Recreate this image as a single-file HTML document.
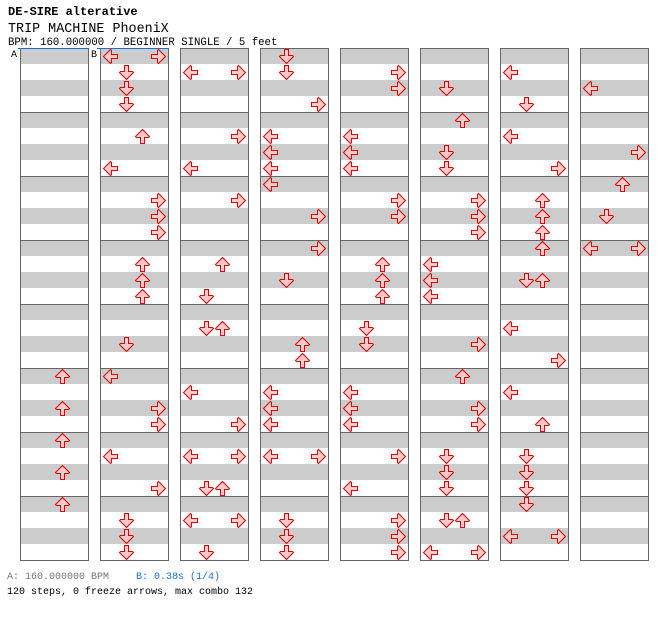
<!DOCTYPE html>
<html><head><meta charset="utf-8"><style>
body{margin:0;background:#fff;width:672px;height:620px;overflow:hidden;font-family:"Liberation Mono",monospace}
svg{position:absolute;left:0;top:0}
</style></head><body>
<svg id="chart" width="672" height="620">
<text x="8" y="15" font-size="12" font-weight="bold" font-family="Liberation Mono, monospace">DE-SIRE alterative</text>
<text x="8" y="32" font-size="13.4" font-family="Liberation Mono, monospace">TRIP MACHINE PhoeniX</text>
<text x="8" y="45" font-size="10.7" font-family="Liberation Mono, monospace">BPM: 160.000000 / BEGINNER SINGLE / 5 feet</text>
<text x="7" y="579" font-size="10" fill="#777" font-family="Liberation Mono, monospace">A: 160.000000 BPM</text>
<text x="136" y="579" font-size="10" fill="#1a6fd0" font-family="Liberation Mono, monospace">B: 0.38s (1/4)</text>
<text x="7" y="594" font-size="10" font-family="Liberation Mono, monospace">120 steps, 0 freeze arrows, max combo 132</text>
<text x="11" y="57" font-size="10" font-family="Liberation Mono, monospace">A</text>
<text x="91" y="57" font-size="10" font-family="Liberation Mono, monospace">B</text>
<g id="grid"></g><g id="arrows"></g>
</svg>
<script>
// steps: [column, row, eighth-position, lane(0=L,1=D,2=U,3=R)]
const stepCols = [0,0,0,0,0,
1,1,1,1,1,1,1,1,1,1,1,1,1,1,1,1,1,1,1,1,1,1,
2,2,2,2,2,2,2,2,2,2,2,2,2,2,2,2,2,2,2,
3,3,3,3,3,3,3,3,3,3,3,3,3,3,3,3,3,3,3,3,3,
4,4,4,4,4,4,4,4,4,4,4,4,4,4,4,4,4,4,4,4,4,
5,5,5,5,5,5,5,5,5,5,5,5,5,5,5,5,5,5,5,5,5,5,
6,6,6,6,6,6,6,6,6,6,6,6,6,6,6,6,6,6,6,6,6,
7,7,7,7,7,7,7];
const stepRows = [5,5,6,6,7,
0,0,0,0,0,1,1,2,2,2,3,3,3,4,5,5,5,6,6,7,7,7,
0,0,1,1,2,3,3,4,4,5,5,6,6,6,6,7,7,7,
3,3,3,
1,1,1,
0,0];
</script>
<script>
const S = [
[0,5,0,2],[0,5,4,2],[0,6,0,2],[0,6,4,2],[0,7,0,2],
[1,0,0,0],[1,0,0,3],[1,0,2,1],[1,0,4,1],[1,0,6,1],[1,1,2,2],[1,1,6,0],[1,2,2,3],[1,2,4,3],[1,2,6,3],[1,3,2,2],[1,3,4,2],[1,3,6,2],[1,4,4,1],[1,5,0,0],[1,5,4,3],[1,5,6,3],[1,6,2,0],[1,6,6,3],[1,7,2,1],[1,7,4,1],[1,7,6,1],
[2,0,2,0],[2,0,2,3],[2,1,2,3],[2,1,6,0],[2,2,2,3],[2,3,2,2],[2,3,6,1],[2,4,2,1],[2,4,2,2],[2,5,2,0],[2,5,6,3],[2,6,2,0],[2,6,2,3],[2,6,6,1],[2,6,6,2],[2,7,2,0],[2,7,2,3],[2,7,6,1],
[3,0,0,1],[3,0,2,1],[3,0,6,3],[3,1,2,0],[3,1,4,0],[3,1,6,0],[3,2,0,0],[3,2,4,3],[3,3,0,3],[3,3,4,1],[3,4,4,2],[3,4,6,2],[3,5,2,0],[3,5,4,0],[3,5,6,0],[3,6,2,0],[3,6,2,3],[3,7,2,1],[3,7,4,1],[3,7,6,1],
[4,0,2,3],[4,0,4,3],[4,1,2,0],[4,1,4,0],[4,1,6,0],[4,2,2,3],[4,2,4,3],[4,3,2,2],[4,3,4,2],[4,3,6,2],[4,4,2,1],[4,4,4,1],[4,5,2,0],[4,5,4,0],[4,5,6,0],[4,6,2,3],[4,6,6,0],[4,7,2,3],[4,7,4,3],[4,7,6,3],
[5,0,4,1],[5,1,0,2],[5,1,4,1],[5,1,6,1],[5,2,2,3],[5,2,4,3],[5,2,6,3],[5,3,2,0],[5,3,4,0],[5,3,6,0],[5,4,4,3],[5,5,0,2],[5,5,4,3],[5,5,6,3],[5,6,2,1],[5,6,4,1],[5,6,6,1],[5,7,2,1],[5,7,2,2],[5,7,6,0],[5,7,6,3],
[6,0,2,0],[6,0,6,1],[6,1,2,0],[6,1,6,3],[6,2,2,2],[6,2,4,2],[6,2,6,2],[6,3,0,2],[6,3,4,1],[6,3,4,2],[6,4,2,0],[6,4,6,3],[6,5,2,0],[6,5,6,2],[6,6,2,1],[6,6,4,1],[6,6,6,1],[6,7,0,1],[6,7,4,0],[6,7,4,3],
[7,0,4,0],[7,1,4,3],[7,2,0,2],[7,2,4,1],[7,3,0,0],[7,3,0,3]
];
const NS='http://www.w3.org/2000/svg';
const colX = c => 20 + 80*c;
const rowY = r => 48 + 64*r;
const grid=document.getElementById('grid');
for(let c=0;c<8;c++){
  const g=document.createElementNS(NS,'g');
  
  
  for(let r=0;r<8;r++){
    const y=rowY(r);
    for(const o of [0,32]){
      const s=document.createElementNS(NS,'rect');
      s.setAttribute('x',colX(c));s.setAttribute('y',y+o);s.setAttribute('width',68);s.setAttribute('height',16);s.setAttribute('fill','#cccccc');
      g.appendChild(s);
    }
    const l=document.createElementNS(NS,'line');
    l.setAttribute('x1',colX(c));l.setAttribute('x2',colX(c)+68);l.setAttribute('y1',y+0.5);l.setAttribute('y2',y+0.5);
    l.setAttribute('stroke',(r==0&&c<2)?'#1a6fd0':'#666');
    g.appendChild(l);
  }
  const b=document.createElementNS(NS,'rect');
  b.setAttribute('x',colX(c)+0.5);b.setAttribute('y',48.5);b.setAttribute('width',68);b.setAttribute('height',512);
  b.setAttribute('fill','none');b.setAttribute('stroke','#666');
  g.appendChild(b);
  if(c<2){const t=document.createElementNS(NS,'line');t.setAttribute('x1',colX(c)-(c==0?2:3));t.setAttribute('x2',colX(c)+69);t.setAttribute('y1',48.5);t.setAttribute('y2',48.5);t.setAttribute('stroke','#1a6fd0');g.appendChild(t);}
  grid.appendChild(g);
}
const shape='M-2,-7 L2,-7 L2,-1 L6,-1 L7,0 L0,7 L-7,0 L-6,-1 L-2,-1 Z';
const rot=[90,0,180,-90];
const names=['left','down','up','right'];
const ag=document.getElementById('arrows');
S.forEach(([c,r,p,lane])=>{
  const cx=colX(c)+10+16*lane+0.5, cy=rowY(r)+8+8*p+0.5;
  const a=document.createElementNS(NS,'path');
  a.setAttribute('d',shape);
  a.setAttribute('transform','translate('+cx+','+cy+') rotate('+rot[lane]+')');
  a.setAttribute('fill','#ffcccc');a.setAttribute('stroke','#dd0000');a.setAttribute('stroke-width','1');
  
  
  ag.appendChild(a);
});
</script>
</body></html>
